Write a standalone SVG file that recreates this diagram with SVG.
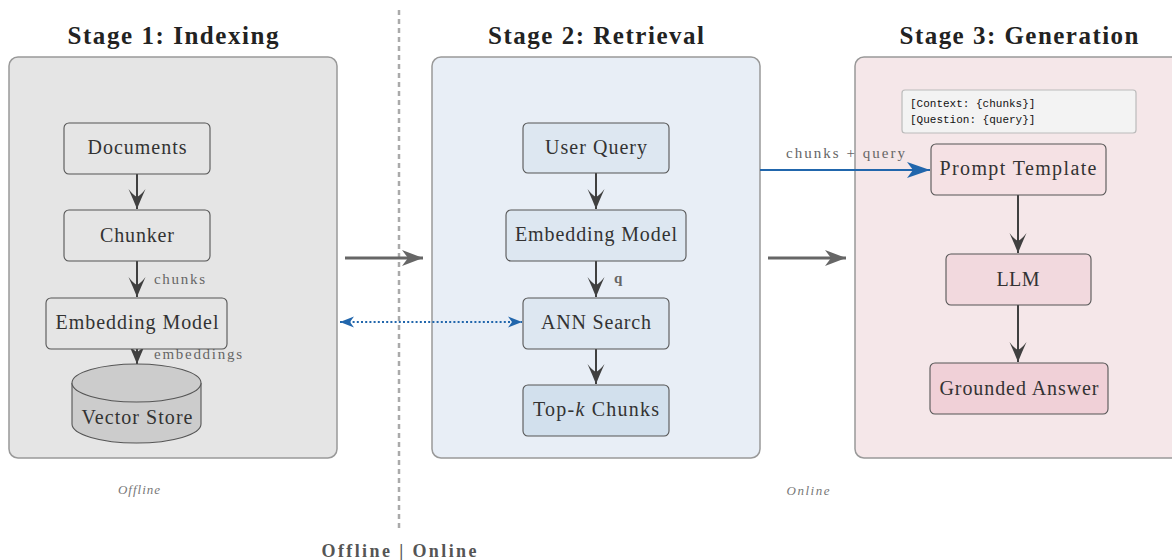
<svg xmlns="http://www.w3.org/2000/svg" width="1172" height="560" viewBox="0 0 1172 560">
  <style>
    .title { font-family: "Liberation Serif", "DejaVu Serif", serif; font-weight: bold; font-size: 25px; fill: #222; text-anchor: middle; }
    .panel { stroke: #999; stroke-width: 1.5; }
    .node { stroke: #555; stroke-width: 1.1; }
    .lbl { font-family: "Liberation Serif", "DejaVu Serif", serif; font-size: 20px; fill: #333; text-anchor: middle; }
    .small { font-family: "Liberation Serif", "DejaVu Serif", serif; font-size: 15px; fill: #666; }
    .mono { font-family: "Liberation Mono", "DejaVu Sans Mono", monospace; font-size: 11px; fill: #111; }
    .note { font-family: "Liberation Serif", "DejaVu Serif", serif; font-style: italic; font-size: 13px; fill: #777; text-anchor: middle; }
    .flow { stroke: #404040; stroke-width: 2; fill: none; }
    .stage { stroke: #666; stroke-width: 3; fill: none; }
    .blue { stroke: #2166ac; stroke-width: 2; fill: none; }
    .dotted { stroke: #2166ac; stroke-width: 2; fill: none; stroke-dasharray: 2 2.2; }
  </style>
  <defs>
    <marker id="stealth" markerUnits="userSpaceOnUse" markerWidth="21" markerHeight="18" viewBox="0 0 21 18" refX="20" refY="9" orient="auto">
      <path d="M0,0.5 Q10,5 20,9 Q10,13 0,17.5 Q6,13 8,9 Q6,5 0,0.5 z" fill="#404040"/>
    </marker>
    <marker id="stealthGray" markerUnits="userSpaceOnUse" markerWidth="22" markerHeight="17" viewBox="0 0 22 17" refX="21" refY="8.5" orient="auto">
      <path d="M0,0.5 L21,8.5 L0,16.5 L6,8.5 z" fill="#666"/>
    </marker>
    <marker id="stealthBlue" markerUnits="userSpaceOnUse" markerWidth="24" markerHeight="18" viewBox="0 0 24 18" refX="23" refY="9" orient="auto">
      <path d="M0,1 L23,9 L0,17 L6,9 z" fill="#2166ac"/>
    </marker>
    <marker id="dotEnd" markerUnits="userSpaceOnUse" markerWidth="15" markerHeight="12" viewBox="0 0 15 12" refX="14" refY="6" orient="auto-start-reverse">
      <path d="M0,0.5 L14,6 L0,11.5 L4,6 z" fill="#2166ac"/>
    </marker>
  </defs>

  <!-- offline / online divider -->
  <line x1="399" y1="10" x2="399" y2="528" stroke="#aaa" stroke-width="2.5" stroke-dasharray="5 4"/>

  <!-- stage panels -->
  <g id="stage1">
    <text class="title" x="173" y="44" textLength="211" lengthAdjust="spacing">Stage 1:  Indexing</text>
    <rect class="panel" x="9" y="57" width="328" height="401" rx="9" fill="#e5e5e5"/>
  </g>
  <g id="stage2">
    <text class="title" x="596" y="44" textLength="216" lengthAdjust="spacing">Stage 2:  Retrieval</text>
    <rect class="panel" x="432" y="57" width="328" height="401" rx="9" fill="#e8eef6"/>
  </g>
  <g id="stage3">
    <text class="title" x="1019" y="44" textLength="239" lengthAdjust="spacing">Stage 3:  Generation</text>
    <rect class="panel" x="855" y="57" width="340" height="401" rx="9" fill="#f5e7e9"/>
  </g>

  <!-- connectors -->
  <g id="connectors">
    <line class="flow" x1="137" y1="174" x2="137" y2="209" marker-end="url(#stealth)"/>
    <line class="flow" x1="137" y1="261" x2="137" y2="297" marker-end="url(#stealth)"/>
    <line class="flow" x1="137" y1="349" x2="137" y2="364" marker-end="url(#stealth)"/>
    <line class="flow" x1="596" y1="173" x2="596" y2="209" marker-end="url(#stealth)"/>
    <line class="flow" x1="596" y1="261" x2="596" y2="297" marker-end="url(#stealth)"/>
    <line class="flow" x1="596" y1="349" x2="596" y2="384" marker-end="url(#stealth)"/>
    <line class="flow" x1="1018" y1="195" x2="1018" y2="253" marker-end="url(#stealth)"/>
    <line class="flow" x1="1018" y1="305" x2="1018" y2="362" marker-end="url(#stealth)"/>
    <line class="stage" x1="345" y1="258" x2="423" y2="258" marker-end="url(#stealthGray)"/>
    <line class="stage" x1="768" y1="258" x2="846" y2="258" marker-end="url(#stealthGray)"/>
    <line class="blue" x1="760" y1="170" x2="930" y2="170" marker-end="url(#stealthBlue)"/>
    <line class="dotted" x1="340" y1="322" x2="522" y2="322" marker-start="url(#dotEnd)" marker-end="url(#dotEnd)"/>
    <text class="small" x="154" y="284" textLength="51" lengthAdjust="spacing">chunks</text>
    <text class="small" x="154" y="359" textLength="88" lengthAdjust="spacing">embeddings</text>
    <text class="small" x="614" y="283" font-weight="bold" fill="#444">q</text>
    <text class="small" x="786" y="158" textLength="119" lengthAdjust="spacing">chunks + query</text>
  </g>

  <!-- indexing nodes -->
  <g id="documents">
    <rect class="node" x="64" y="123" width="146" height="51" rx="5" fill="#e5e5e5"/>
    <text class="lbl" x="137" y="154" textLength="99" lengthAdjust="spacing">Documents</text>
  </g>
  <g id="chunker">
    <rect class="node" x="64" y="210" width="146" height="51" rx="5" fill="#e5e5e5"/>
    <text class="lbl" x="137" y="242" textLength="74" lengthAdjust="spacing">Chunker</text>
  </g>
  <g id="embed1">
    <rect class="node" x="46" y="298" width="181" height="51" rx="5" fill="#e5e5e5"/>
    <text class="lbl" x="137" y="329" textLength="163" lengthAdjust="spacing">Embedding Model</text>
  </g>
  <g id="vector-store">
    <path d="M72,383 L72,424 A64.5,19 0 0 0 201,424 L201,383" fill="#cccccc" stroke="#555" stroke-width="1.1"/>
    <ellipse cx="136.5" cy="383" rx="64.5" ry="19" fill="#cccccc" stroke="#555" stroke-width="1.1"/>
    <text class="lbl" x="137" y="424" textLength="111" lengthAdjust="spacing">Vector Store</text>
  </g>

  <!-- retrieval nodes -->
  <g id="user-query">
    <rect class="node" x="523" y="123" width="146" height="50" rx="5" fill="#dde7f1"/>
    <text class="lbl" x="596" y="154" textLength="102" lengthAdjust="spacing">User Query</text>
  </g>
  <g id="embed2">
    <rect class="node" x="506" y="210" width="180" height="51" rx="5" fill="#dde7f1"/>
    <text class="lbl" x="596" y="241" textLength="162" lengthAdjust="spacing">Embedding Model</text>
  </g>
  <g id="ann-search">
    <rect class="node" x="523" y="298" width="146" height="51" rx="5" fill="#dde7f1"/>
    <text class="lbl" x="596" y="329" textLength="110" lengthAdjust="spacing">ANN Search</text>
  </g>
  <g id="top-k">
    <rect class="node" x="523" y="385" width="146" height="51" rx="5" fill="#d2e0ed"/>
    <text class="lbl" x="596" y="416" textLength="126" lengthAdjust="spacing">Top-<tspan font-style="italic">k</tspan> Chunks</text>
  </g>

  <!-- generation nodes -->
  <g id="template-note">
    <rect x="902" y="90" width="234" height="43" rx="3" fill="#f3f3f3" stroke="#bbb" stroke-width="1.2"/>
    <text class="mono" x="910" y="107">[Context: {chunks}]</text>
    <text class="mono" x="910" y="123">[Question: {query}]</text>
  </g>
  <g id="prompt-template">
    <rect class="node" x="931" y="144" width="175" height="51" rx="5" fill="#f5e1e4"/>
    <text class="lbl" x="1018" y="175" textLength="157" lengthAdjust="spacing">Prompt Template</text>
  </g>
  <g id="llm">
    <rect class="node" x="946" y="254" width="145" height="51" rx="5" fill="#f2d9de"/>
    <text class="lbl" x="1018" y="286" textLength="43" lengthAdjust="spacing">LLM</text>
  </g>
  <g id="answer">
    <rect class="node" x="930" y="363" width="178" height="51" rx="5" fill="#f0d0d7"/>
    <text class="lbl" x="1019" y="395" textLength="159" lengthAdjust="spacing">Grounded Answer</text>
  </g>

  <!-- footer notes -->
  <text class="note" x="139" y="494" textLength="42" lengthAdjust="spacing">Offline</text>
  <text class="note" x="808" y="495" textLength="43" lengthAdjust="spacing">Online</text>
  <text x="399" y="557" font-family="Liberation Serif, DejaVu Serif, serif" font-weight="bold" font-size="18" fill="#555" text-anchor="middle" textLength="155" lengthAdjust="spacing">Offline | Online</text>
</svg>
